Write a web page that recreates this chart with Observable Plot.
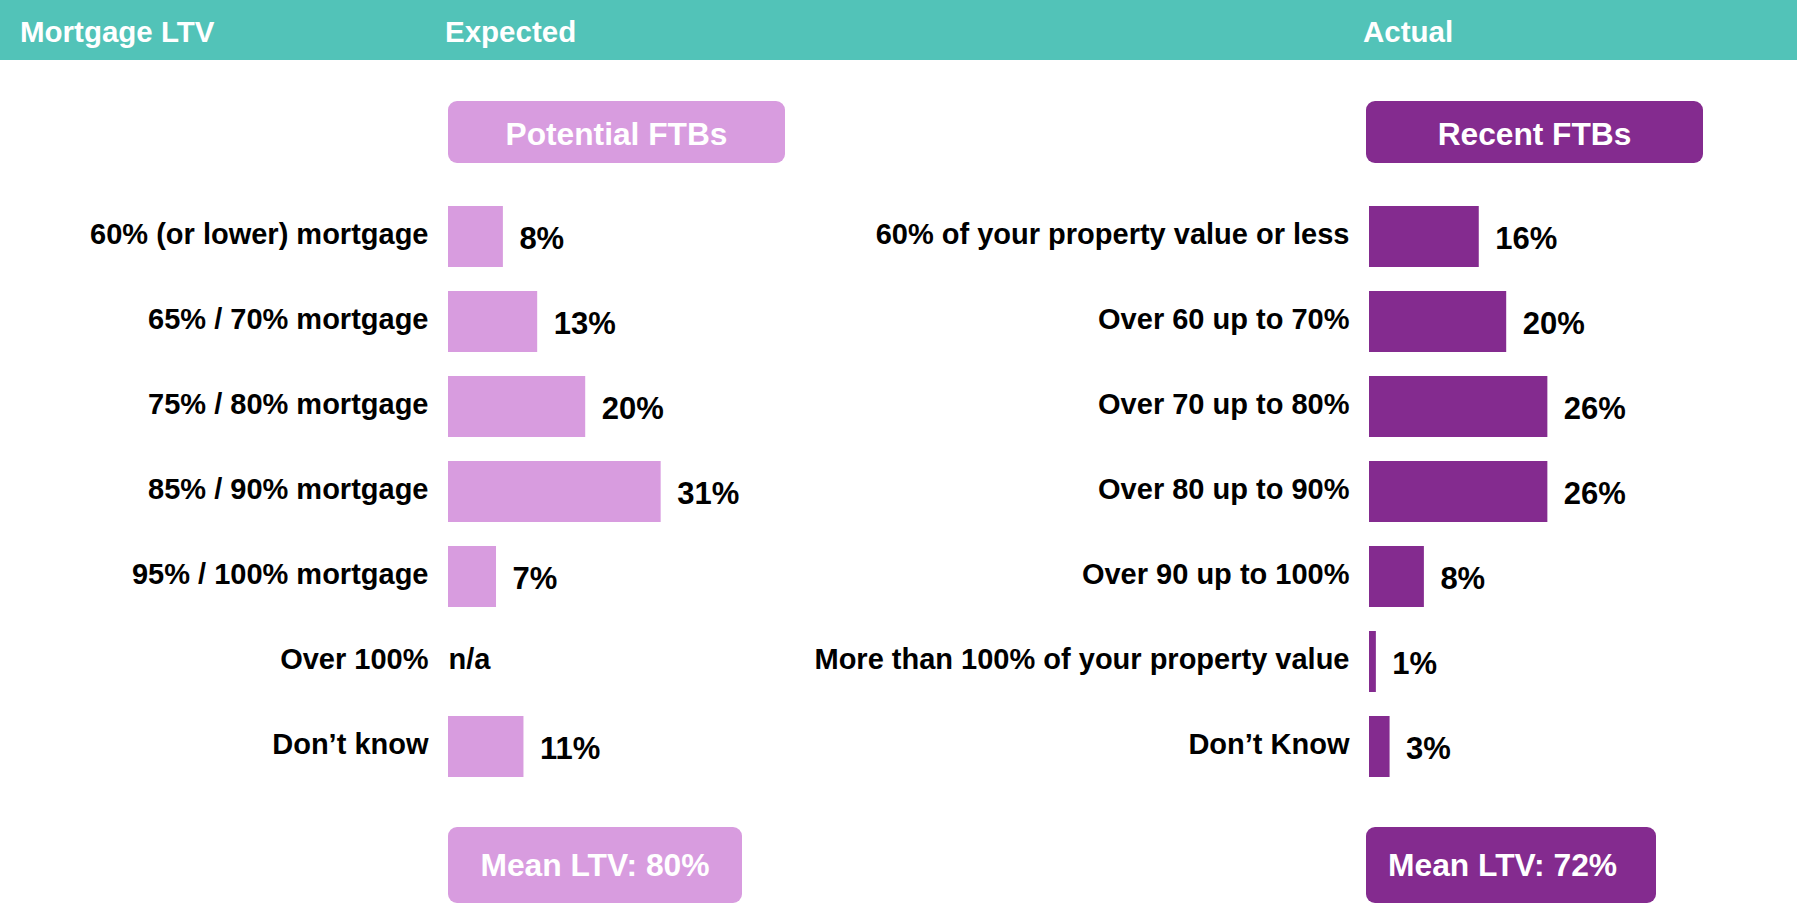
<!DOCTYPE html>
<html>
<head>
<meta charset="utf-8">
<script src="https://cdn.jsdelivr.net/npm/d3@7"></script>
<script src="https://cdn.jsdelivr.net/npm/@observablehq/plot@0.6"></script>
<style>
  html, body { margin: 0; padding: 0; background: #fff; overflow: hidden; }
  #wrap { position: relative; width: 1797px; height: 906px; font-family: "Liberation Sans", Arial, sans-serif; font-weight: bold; }
  .band { position: absolute; left: 0; top: 0; width: 1797px; height: 60px; background: #52C3B8; z-index: 2; }
  .htxt { position: absolute; top: 2px; line-height: 60px; font-size: 29.5px; color: #fff; z-index: 3; white-space: nowrap; }
  .box { position: absolute; border-radius: 9px; color: #fff; z-index: 3; display: flex; align-items: center; white-space: nowrap; box-sizing: border-box; }
  .panel { position: absolute; top: 0; z-index: 1; }
</style>
</head>
<body>
<div id="wrap"></div>
<script>
// ---- data ----
const headerLabels = ["Mortgage LTV", "Expected", "Actual"];
const panelTitles = ["Potential FTBs", "Recent FTBs"];
const potentialCategories = ["60% (or lower) mortgage", "65% / 70% mortgage", "75% / 80% mortgage", "85% / 90% mortgage", "95% / 100% mortgage", "Over 100%", "Don\u2019t know"];
const potentialValues = [8, 13, 20, 31, 7, null, 11];
const recentCategories = ["60% of your property value or less", "Over 60 up to 70%", "Over 70 up to 80%", "Over 80 up to 90%", "Over 90 up to 100%", "More than 100% of your property value", "Don\u2019t Know"];
const recentValues = [16, 20, 26, 26, 8, 1, 3];
const meanLTV = [80, 72];
const colors = ["#D89CDF", "#842B8F"];

const wrap = document.getElementById("wrap");
const FONT = "'Liberation Sans', Arial, sans-serif";

function el(cls, style, text) {
  const d = document.createElement("div");
  d.className = cls;
  Object.assign(d.style, style);
  if (text != null) d.textContent = text;
  wrap.appendChild(d);
  return d;
}

// header band
el("band", {});
el("htxt", {left: "20px"}, headerLabels[0]);
el("htxt", {left: "445px"}, headerLabels[1]);
el("htxt", {left: "1363px"}, headerLabels[2]);

// panel title boxes
el("box", {left: "448px", top: "101px", width: "337px", height: "62px", background: colors[0], fontSize: "31.7px", justifyContent: "center", paddingTop: "4px"}, panelTitles[0]);
el("box", {left: "1366px", top: "101px", width: "337px", height: "62px", background: colors[1], fontSize: "31.7px", justifyContent: "center", paddingTop: "4px"}, panelTitles[1]);

// mean boxes
el("box", {left: "448px", top: "827px", width: "294px", height: "76px", background: colors[0], fontSize: "31.8px", justifyContent: "center"}, `Mean LTV: ${meanLTV[0]}%`);
el("box", {left: "1366px", top: "827px", width: "290px", height: "76px", background: colors[1], fontSize: "31.8px", justifyContent: "flex-start", paddingLeft: "22px"}, `Mean LTV: ${meanLTV[1]}%`);

function panel(categories, values, color, left, width, marginLeft) {
  const data = categories.map((c, i) => ({category: c, value: values[i]}));
  const have = data.filter(d => d.value != null);
  const missing = data.filter(d => d.value == null);
  const chart = Plot.plot({
    width,
    height: 906,
    marginLeft,
    marginRight: width - marginLeft - 343,
    marginTop: 191.7,
    marginBottom: 115.1,
    style: {fontFamily: FONT, fontWeight: "bold", fontSize: "29px", color: "#000", background: "transparent", overflow: "visible"},
    x: {domain: [0, 50], axis: null},
    y: {domain: categories, paddingInner: 0.287, paddingOuter: 0.1435},
    marks: [
      Plot.barX(have, {x: "value", y: "category", fill: color}),
      Plot.axisY({tickSize: 0, tickPadding: 20, fontSize: 29, fontWeight: "bold", fill: "#000", label: null, dy: -2}),
      Plot.text(have, {x: "value", y: "category", text: d => `${d.value}%`, dx: 16, dy: 2, textAnchor: "start", fontSize: 31, fontWeight: "bold", fill: "#000"}),
      Plot.text(missing, {x: () => 0, y: "category", text: () => "n/a", dy: -2, textAnchor: "start", fontSize: 29, fontWeight: "bold", fill: "#000"})
    ]
  });
  chart.classList.add("panel");
  chart.style.left = left + "px";
  wrap.appendChild(chart);
}

panel(potentialCategories, potentialValues, colors[0], 0, 800, 448);
panel(recentCategories, recentValues, colors[1], 800, 997, 569);
</script>
</body>
</html>
